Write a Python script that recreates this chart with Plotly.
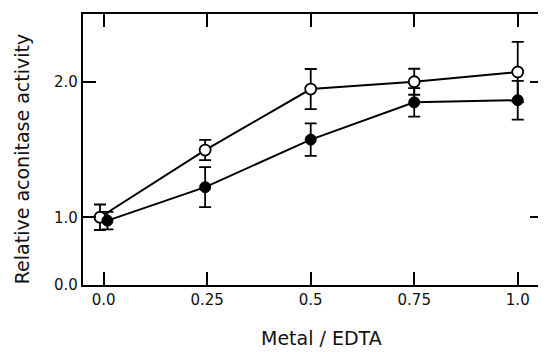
import plotly.graph_objects as go

# Metal / EDTA ratio
x_open = [-0.009, 0.245, 0.5, 0.75, 1.0]
x_filled = [0.009, 0.245, 0.5, 0.75, 1.0]

# Relative aconitase activity (axis drawn as broken: bottom labelled 0.0)
y_open = [1.00, 1.496, 1.946, 2.00, 2.072]
err_open = [0.094, 0.075, 0.148, 0.096, 0.222]
y_filled = [0.975, 1.222, 1.573, 1.848, 1.864]
err_filled = [0.064, 0.148, 0.12, 0.105, 0.143]

x_tickvals = [0, 0.25, 0.5, 0.75, 1.0]
x_ticktext = ["0.0", "0.25", "0.5", "0.75", "1.0"]
y_tickvals = [0.5, 1.0, 2.0]
y_ticktext = ["0.0", "1.0", "2.0"]

fig = go.Figure()
fig.add_trace(go.Scatter(
    x=x_open, y=y_open, mode="lines+markers",
    line=dict(color="black", width=2),
    marker=dict(symbol="circle", size=11, color="white", line=dict(color="black", width=1.8)),
    error_y=dict(type="data", array=err_open, visible=True, color="black", thickness=1.8, width=6),
    showlegend=False,
))
fig.add_trace(go.Scatter(
    x=x_filled, y=y_filled, mode="lines+markers",
    line=dict(color="black", width=2),
    marker=dict(symbol="circle", size=11, color="black", line=dict(color="black", width=1)),
    error_y=dict(type="data", array=err_filled, visible=True, color="black", thickness=1.8, width=6),
    showlegend=False,
))

tickfont = dict(family="DejaVu Sans", size=15, color="#111")
fig.update_xaxes(
    range=[-0.05, 1.061], tickvals=x_tickvals, ticktext=x_ticktext,
    ticks="inside", ticklen=13, tickwidth=1.8, tickcolor="black",
    showline=True, linecolor="black", linewidth=2.2, mirror="ticks",
    showgrid=False, zeroline=False, tickfont=tickfont,
)
fig.update_yaxes(
    range=[0.5, 2.5], tickvals=y_tickvals, ticktext=y_ticktext,
    ticks="inside", ticklen=13, tickwidth=1.8, tickcolor="black",
    showline=True, linecolor="black", linewidth=2.2, mirror="ticks",
    showgrid=False, zeroline=False, tickfont=tickfont,
)

fig.add_annotation(text="Relative aconitase activity", xref="paper", yref="paper",
                   x=-0.132, y=0.465, textangle=-90, showarrow=False,
                   font=dict(family="DejaVu Sans", size=19, color="#111"),
                   xanchor="center", yanchor="middle")
fig.add_annotation(text="Metal / EDTA", xref="paper", yref="paper",
                   x=0.519, y=-0.197, showarrow=False,
                   font=dict(family="DejaVu Sans", size=19, color="#111"),
                   xanchor="center", yanchor="middle")

# page body has an 8px margin; size/margins compensate for it
fig.update_layout(
    width=538, height=344,
    margin=dict(l=75, r=1, t=6, b=67),
    paper_bgcolor="white", plot_bgcolor="white",
)
fig.write_html("out.html")
